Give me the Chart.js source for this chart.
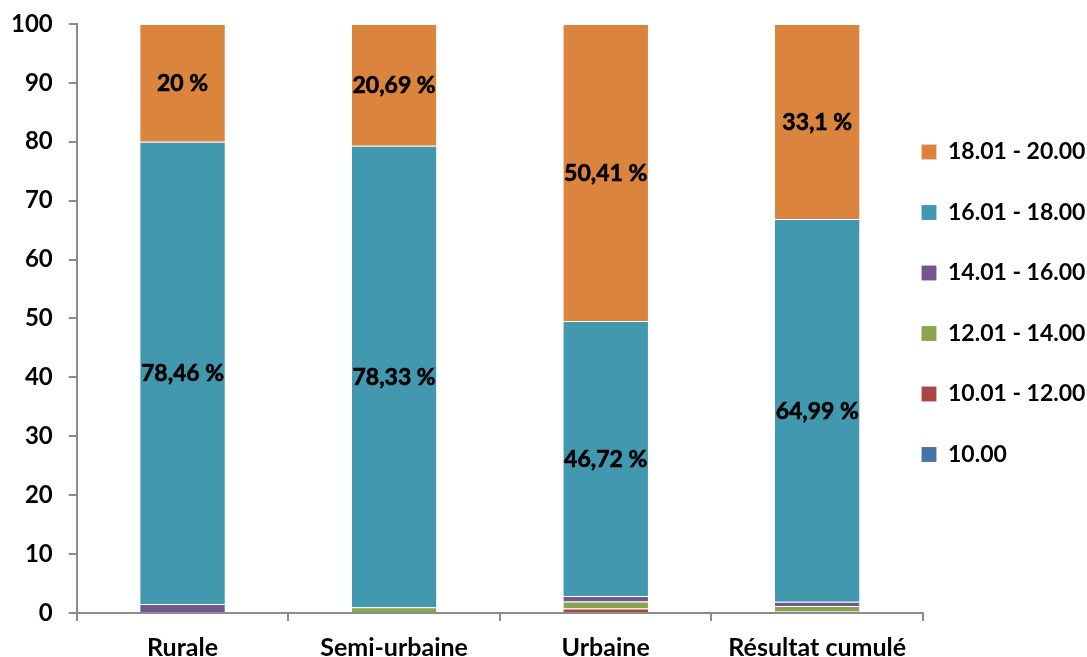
<!DOCTYPE html>
<html>
<head>
<meta charset="utf-8">
<script src="https://cdn.jsdelivr.net/npm/chart.js@4/dist/chart.umd.min.js"></script>
<style>
  body { margin: 0; background: #fff; }
  #wrap { width: 1087px; height: 657px; }
</style>
</head>
<body>
<div id="wrap"><canvas id="chart"></canvas></div>
<script>
// --- data
var categories = ['Rurale', 'Semi-urbaine', 'Urbaine', 'Résultat cumulé'];
var yTicks = [0, 10, 20, 30, 40, 50, 60, 70, 80, 90, 100];

var s10    = [0, 0, 0, 0];              // 10.00
var s10_12 = [0, 0, 0.77, 0.25];        // 10.01 - 12.00
var s12_14 = [0, 0.98, 1.17, 0.93];     // 12.01 - 14.00
var s14_16 = [1.54, 0, 0.93, 0.73];     // 14.01 - 16.00
var s16_18 = [78.46, 78.33, 46.72, 64.99]; // 16.01 - 18.00
var s18_20 = [20, 20.69, 50.41, 33.1];  // 18.01 - 20.00

var seriesNames = ['10.00', '10.01 - 12.00', '12.01 - 14.00', '14.01 - 16.00', '16.01 - 18.00', '18.01 - 20.00'];
var seriesData = [s10, s10_12, s12_14, s14_16, s16_18, s18_20];
var seriesColors = ['#4572A7', '#AA4643', '#89A54E', '#71588F', '#4198AF', '#DB843D'];
var labelled = [false, false, false, false, true, true];

var FONT = 'Lato, "Open Sans", sans-serif';
var axisColor = '#8c8c8c';

// labels inside the bars ("78,46 %")
var barLabels = {
    id: 'barLabels',
    afterDatasetsDraw: function (chart) {
        var ctx = chart.ctx;
        ctx.save();
        ctx.font = 'bold 23px ' + FONT;
        ctx.fillStyle = '#000';
        ctx.strokeStyle = '#000';
        ctx.lineWidth = 0.6;
        ctx.textAlign = 'center';
        ctx.textBaseline = 'middle';
        chart.data.datasets.forEach(function (ds, di) {
            if (!labelled[di]) return;
            chart.getDatasetMeta(di).data.forEach(function (bar, i) {
                var txt = String(ds.data[i]).replace('.', ',') + ' %';
                var p = bar.getCenterPoint();
                ctx.fillText(txt, p.x, p.y + 1);
                ctx.strokeText(txt, p.x, p.y + 1);
            });
        });
        ctx.restore();
    }
};

// pull the legend column in next to the plot, like the original
var legendPlace = {
    id: 'legendPlace',
    afterLayout: function (chart) {
        var lg = chart.legend;
        lg.left = chart.chartArea.right - 39;
        lg.right = chart.width;
        lg.width = lg.right - lg.left;
        lg.top = 103;
        lg.bottom = chart.height;
        lg.height = lg.bottom - lg.top;
    }
};

var datasets = seriesNames.map(function (name, i) {
    return {
        label: name,
        data: seriesData[i],
        backgroundColor: seriesColors[i],
        borderColor: 'rgba(255,255,255,0.55)',
        borderWidth: { top: 1, left: 0, right: 0, bottom: 0 },
        borderSkipped: false
    };
});

new Chart(document.getElementById('chart'), {
    type: 'bar',
    data: { labels: categories, datasets: datasets },
    plugins: [barLabels, legendPlace],
    options: {
        responsive: true,
        maintainAspectRatio: false,
        animation: false,
        layout: { padding: { top: 0, left: -5, right: 0, bottom: -18 } },
        datasets: { bar: { categoryPercentage: 1, barPercentage: 0.4 } },
        plugins: {
            tooltip: { enabled: false },
            legend: {
                position: 'right',
                align: 'start',
                reverse: true,
                maxWidth: 164,
                labels: {
                    boxWidth: 15,
                    boxHeight: 15,
                    padding: 37.5,
                    color: '#000',
                    font: { family: FONT, size: 23, weight: 'bold' }
                }
            }
        },
        scales: {
            x: {
                stacked: true,
                border: { color: axisColor, width: 2 },
                grid: { offset: true, drawOnChartArea: false, drawTicks: true, tickLength: 8, color: axisColor, lineWidth: 2 },
                ticks: { color: '#000', padding: 12, font: { family: FONT, size: 25, weight: 'bold' } }
            },
            y: {
                stacked: true,
                min: 0,
                max: 100,
                afterBuildTicks: function (axis) {
                    axis.ticks = yTicks.map(function (v) { return { value: v }; });
                },
                border: { color: axisColor, width: 2 },
                grid: { drawOnChartArea: false, drawTicks: true, tickLength: 8, color: axisColor, lineWidth: 2 },
                ticks: { color: '#000', padding: 16, font: { family: FONT, size: 24, weight: 'bold', lineHeight: 0.66 } }
            }
        }
    }
});
</script>
</body>
</html>
